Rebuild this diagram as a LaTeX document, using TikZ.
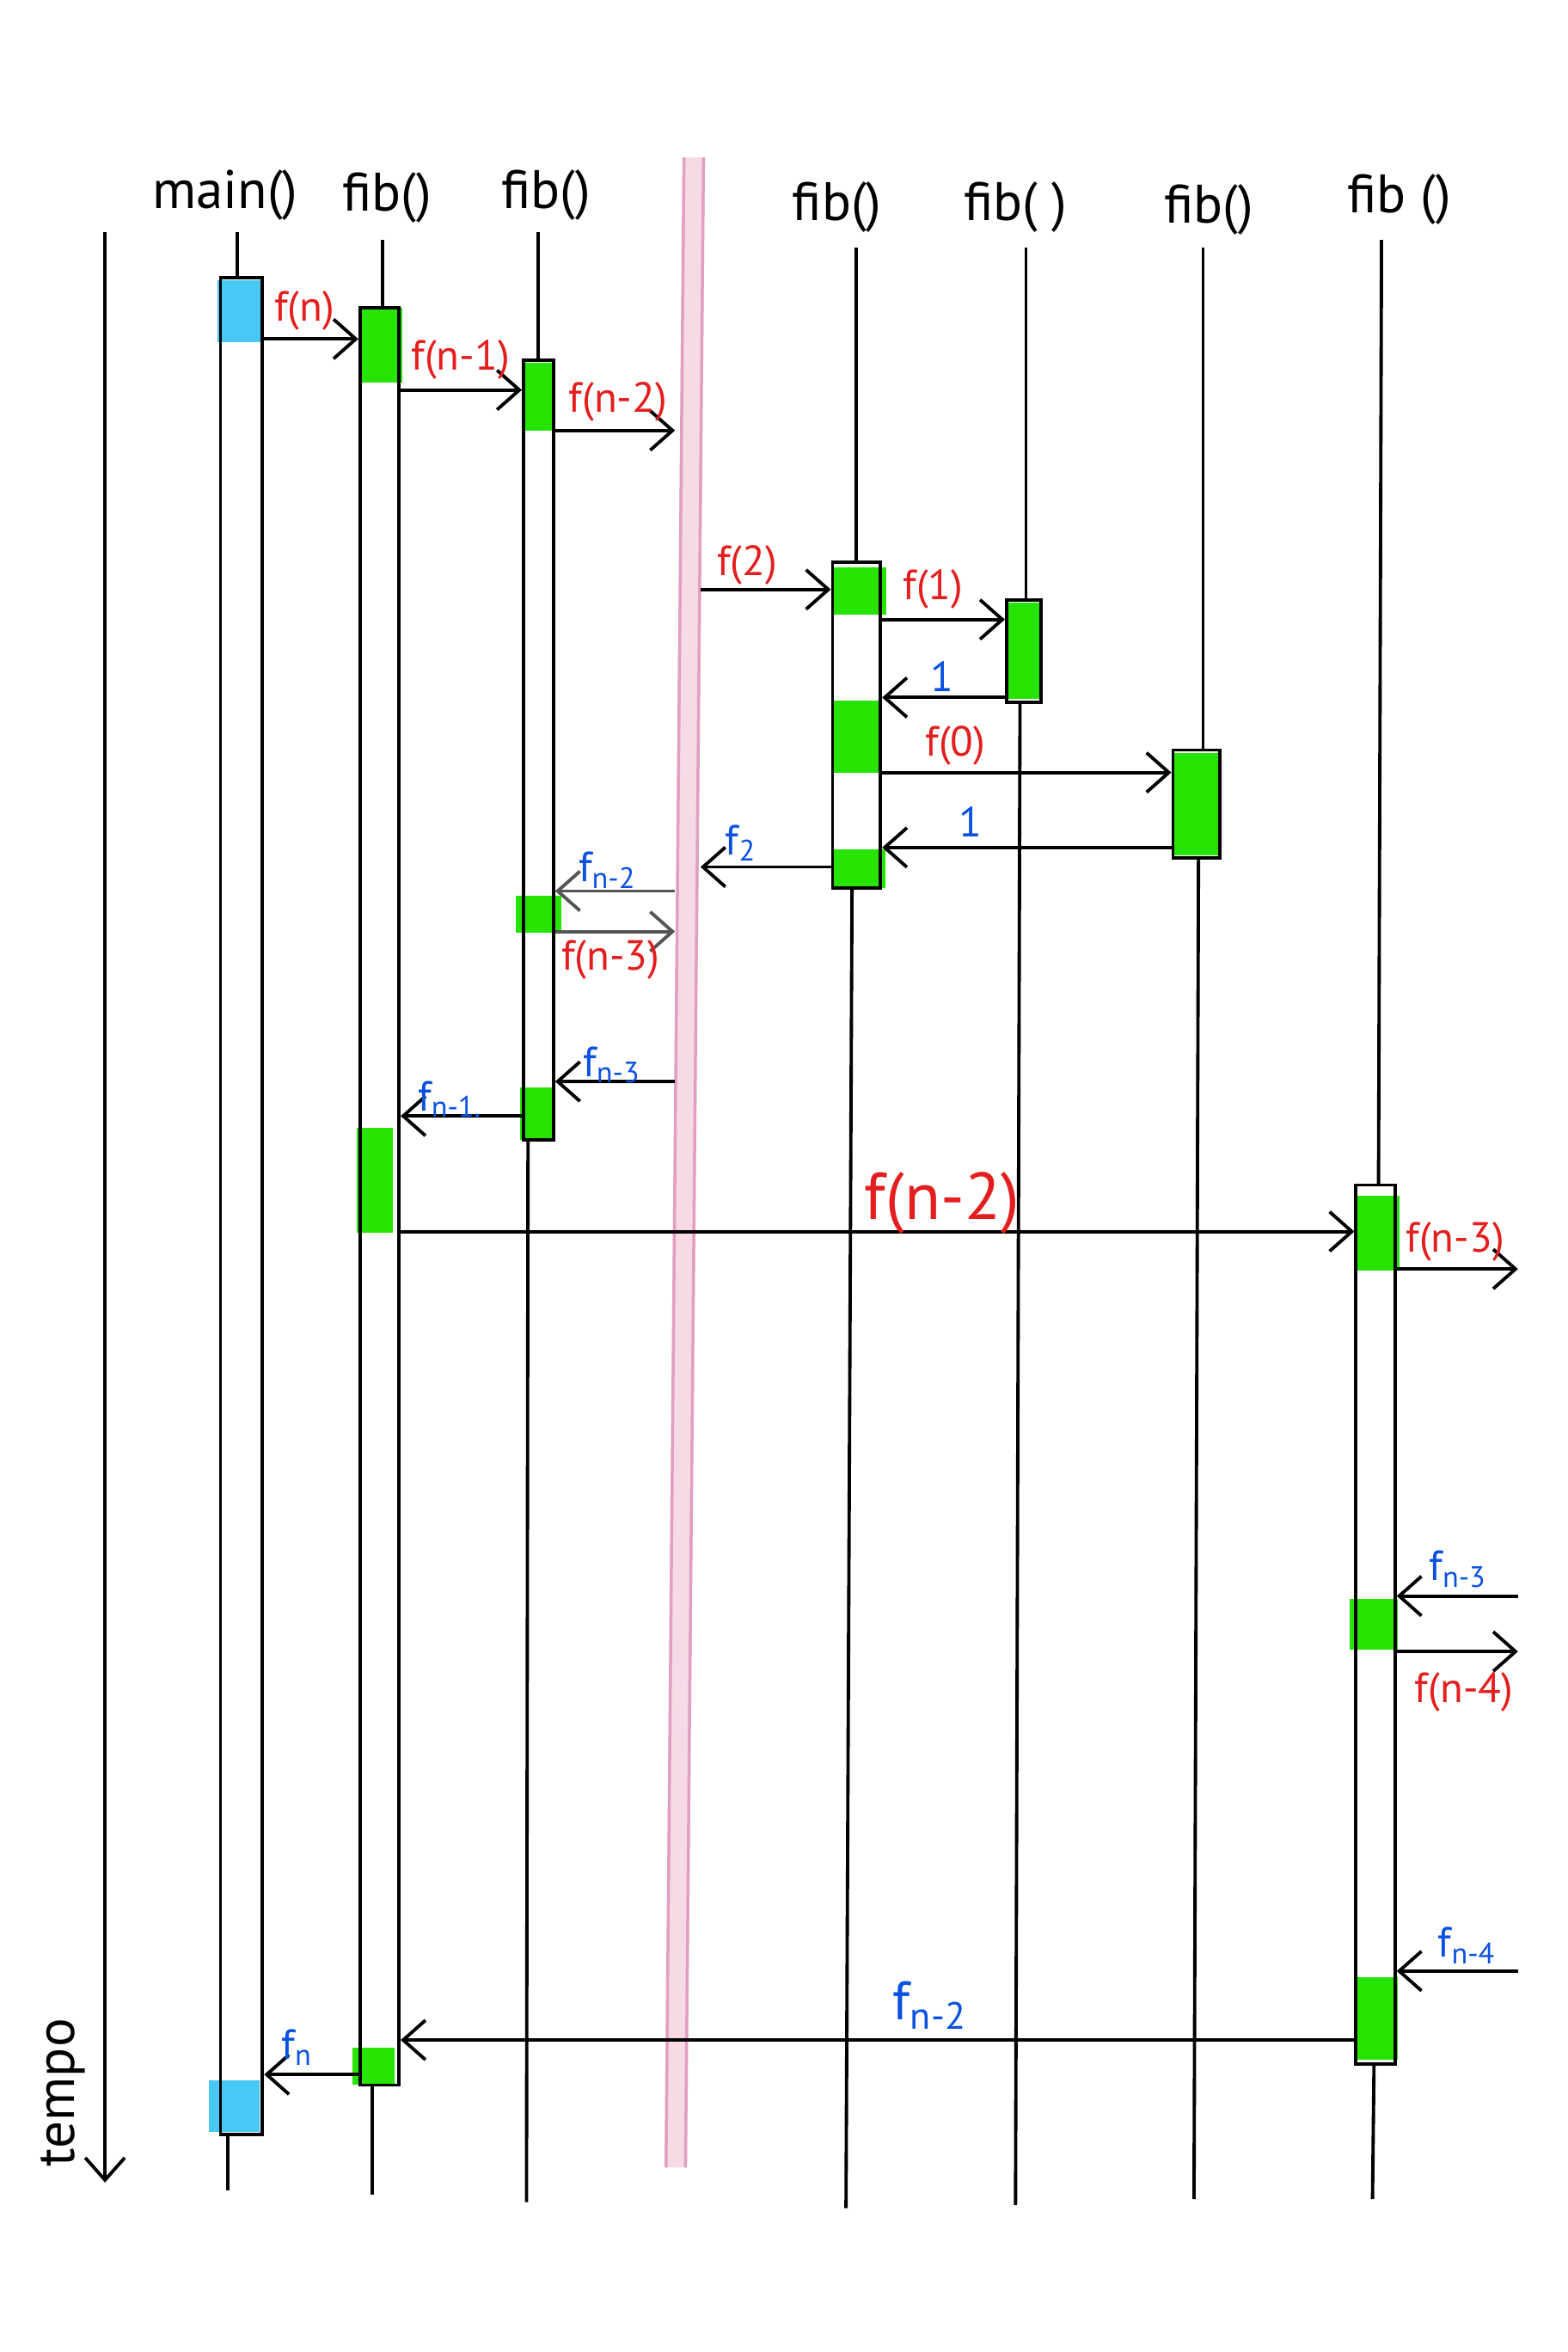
\documentclass[tikz,border=0pt]{standalone}
\usepackage{fontspec}
\setmainfont{PT Sans}
\usepackage{tikz}
\usetikzlibrary{arrows.meta}
\usetikzlibrary{fit}
\usetikzlibrary{positioning}
\definecolor{mred}{RGB}{228, 30, 30}
\definecolor{mblue}{RGB}{10, 80, 225}
\definecolor{mgreen}{RGB}{38, 228, 0}
\definecolor{mcyan}{RGB}{72, 200, 245}
\definecolor{mpink}{RGB}{246, 218, 230}
\definecolor{mpinkedge}{RGB}{226, 160, 192}
\definecolor{mgray}{RGB}{85, 85, 85}
\tikzset{msg/.style = {-{Straight Barb[length=2.6mm, width=4.6mm]}, line width=1.1pt},
         bar/.style = {draw, line width=1.1pt, inner sep=0pt},
         call/.style = {text=mred, font=\fontsize{14}{14}\selectfont},
         ret/.style = {text=mblue, font=\fontsize{14}{14}\selectfont},
         head/.style = {font=\fontsize{18}{18}\selectfont}}

\begin{document}
\begin{tikzpicture}[x=0.0175cm, y=-0.0175cm, line width=1.1pt]
    \useasboundingbox (0, 0) rectangle (1045, 1568);

    \fill [mpink] (455, 105) -- (470, 105) -- (458, 1445) -- (443, 1445) -- cycle;
    \draw [mpinkedge, line width=1pt] (456, 105) -- (444, 1445);
    \draw [mpinkedge, line width=1pt] (469, 105) -- (457, 1445);

    \fill [mcyan] (145, 187) rectangle (175, 228);
    \fill [mcyan] (139, 1387) rectangle (173, 1421);
    \fill [mgreen] (240, 205) rectangle (268, 255);
    \fill [mgreen] (238, 752) rectangle (262, 822);
    \fill [mgreen] (235, 1365) rectangle (263, 1390);
    \fill [mgreen] (349, 242) rectangle (370, 287);
    \fill [mgreen] (344, 597) rectangle (374, 622);
    \fill [mgreen] (347, 725) rectangle (369, 760);
    \fill [mgreen] (556, 378) rectangle (591, 410);
    \fill [mgreen] (556, 467) rectangle (587, 515);
    \fill [mgreen] (555, 566) rectangle (590, 592);
    \fill [mgreen] (671, 402) rectangle (694, 466);
    \fill [mgreen] (782, 502) rectangle (813, 570);
    \fill [mgreen] (904, 797) rectangle (933, 847);
    \fill [mgreen] (900, 1066) rectangle (932, 1100);
    \fill [mgreen] (904, 1318) rectangle (932, 1373);

    \node [bar, fit={(147, 185) (175, 1423)}] (mainbar) {};
    \node [bar, fit={(240, 205) (266, 1390)}] (fibA) {};
    \node [bar, fit={(349, 240) (369, 760)}] (fibB) {};
    \node [bar, fit={(555, 375) (587, 592)}] (fibC) {};
    \node [bar, fit={(671, 400) (694, 468)}] (fibD) {};
    \node [bar, fit={(782, 500) (813, 572)}] (fibE) {};
    \node [bar, fit={(904, 790) (930, 1376)}] (fibF) {};

    \draw (158, 155) -- (158, 185);
    \draw (152, 1423) -- (152, 1460);
    \draw (255, 160) -- (255, 205);
    \draw (248, 1390) -- (248, 1463);
    \draw (359, 155) -- (359, 240);
    \draw (352, 760) -- (351, 1468);
    \draw (571, 165) -- (571, 375);
    \draw (568, 592) -- (564, 1472);
    \draw (684, 165) -- (684, 400);
    \draw (680, 468) -- (677, 1470);
    \draw (802, 165) -- (802, 500);
    \draw (799, 572) -- (796, 1466);
    \draw (921, 160) -- (919, 790);
    \draw (916, 1376) -- (915, 1466);

    \node [head] (hmain) at (150, 130) {main()};
    \node [head] (hfibA) at (258, 132) {fib()};
    \node [head] (hfibB) at (364, 130) {fib()};
    \node [head] (hfibC) at (558, 138) {fib()};
    \node [head] (hfibD) at (677, 138) {fib( )};
    \node [head] (hfibE) at (806, 140) {fib()};
    \node [head] (hfibF) at (933, 133) {fib ()};

    \coordinate (ttop) at (70, 155);
    \coordinate (tbot) at (70, 1455);
    \draw [msg] (ttop) -- (tbot);
    \node [head, rotate=90] (tempo) at (42, 1395) {tempo};

    \coordinate (bandL) at (450, 0);
    \coordinate (bandR) at (467, 0);
    \coordinate (edge) at (1012, 0);
    \coordinate (t1) at (0, 226);
    \coordinate (t2) at (0, 260);
    \coordinate (t3) at (0, 287);
    \coordinate (t4) at (0, 393);
    \coordinate (t5) at (0, 413);
    \coordinate (t6) at (0, 465);
    \coordinate (t7) at (0, 515);
    \coordinate (t8) at (0, 565);
    \coordinate (t9) at (0, 578);
    \coordinate (t10) at (0, 594);
    \coordinate (t11) at (0, 621);
    \coordinate (t12) at (0, 721);
    \coordinate (t13) at (0, 744);
    \coordinate (t14) at (0, 821);
    \coordinate (t15) at (0, 846);
    \coordinate (t16) at (0, 1064);
    \coordinate (t17) at (0, 1101);
    \coordinate (t18) at (0, 1314);
    \coordinate (t19) at (0, 1360);
    \coordinate (t20) at (0, 1383);

    \draw [msg] (mainbar.east |- t1) -- (fibA.west |- t1);
    \draw [msg] (fibA.east |- t2) -- (fibB.west |- t2);
    \draw [msg] (fibB.east |- t3) -- (bandL |- t3);
    \draw [msg] (bandR |- t4) -- (fibC.west |- t4);
    \draw [msg] (fibC.east |- t5) -- (fibD.west |- t5);
    \draw [msg] (fibD.west |- t6) -- (fibC.east |- t6);
    \draw [msg] (fibC.east |- t7) -- (fibE.west |- t7);
    \draw [msg] (fibE.west |- t8) -- (fibC.east |- t8);
    \draw [msg] (fibC.west |- t9) -- (bandR |- t9);
    \draw [msg, mgray] (bandL |- t10) -- (fibB.east |- t10);
    \draw [msg, mgray] (fibB.east |- t11) -- (bandL |- t11);
    \draw [msg] (bandL |- t12) -- (fibB.east |- t12);
    \draw [msg] (fibB.west |- t13) -- (fibA.east |- t13);
    \draw [msg] (fibA.east |- t14) -- (fibF.west |- t14);
    \draw [msg] (fibF.east |- t15) -- (edge |- t15);
    \draw [msg] (edge |- t16) -- (fibF.east |- t16);
    \draw [msg] (fibF.east |- t17) -- (edge |- t17);
    \draw [msg] (edge |- t18) -- (fibF.east |- t18);
    \draw [msg] (fibF.west |- t19) -- (fibA.east |- t19);
    \draw [msg] (fibA.west |- t20) -- (mainbar.east |- t20);

    \node [call] (lfn) at (203, 207) {f(n)};
    \node [call] (lfn1) at (307, 240) {f(n-1)};
    \node [call] (lfn2) at (412, 268) {f(n-2)};
    \node [call] (lf2) at (498, 377) {f(2)};
    \node [call] (lf1) at (622, 393) {f(1)};
    \node [ret] (lr1) at (628, 451) {1};
    \node [call] (lf0) at (637, 497) {f(0)};
    \node [ret] (lr0) at (647, 548) {1};
    \node [ret] (lrf2) at (494, 562) {f\textsubscript{2}};
    \node [ret] (lrn2) at (405, 580) {f\textsubscript{n-2}};
    \node [call] (lfn3) at (407, 640) {f(n-3)};
    \node [ret] (lrn3) at (408, 710) {f\textsubscript{n-3}};
    \node [ret] (lrn1) at (300, 733) {f\textsubscript{n-1.}};
    \node [call, font=\fontsize{22}{22}\selectfont] (lbig) at (628, 802) {f(n-2)};
    \node [call] (lfn3b) at (970, 828) {f(n-3)};
    \node [ret] (lrn3b) at (972, 1046) {f\textsubscript{n-3}};
    \node [call] (lfn4) at (976, 1128) {f(n-4)};
    \node [ret] (lrn4) at (978, 1297) {f\textsubscript{n-4}};
    \node [ret, font=\fontsize{18}{18}\selectfont] (lrbig) at (620, 1337) {f\textsubscript{n-2}};
    \node [ret] (lrn) at (198, 1365) {f\textsubscript{n}};
\end{tikzpicture}
\end{document}
